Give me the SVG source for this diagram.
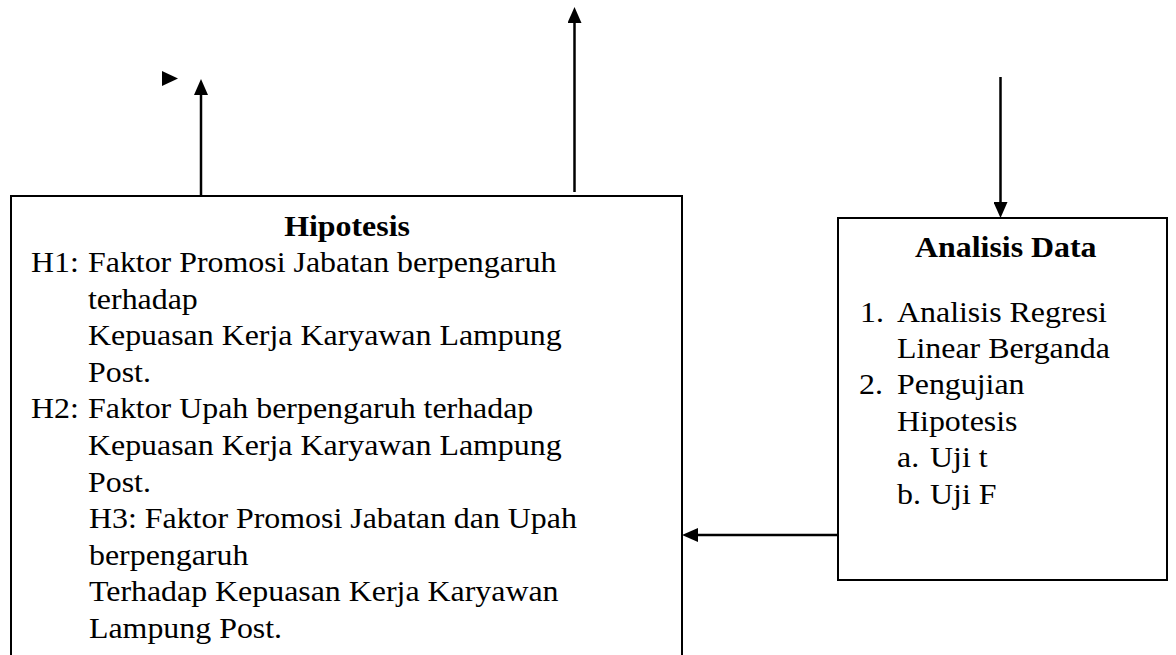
<svg xmlns="http://www.w3.org/2000/svg" width="1176" height="655" viewBox="0 0 1176 655">
  <style>
    .box { fill: #ffffff; stroke: #000000; stroke-width: 2; }
    .t { font-family: 'Liberation Serif', 'Times New Roman', serif; font-size: 29px; fill: #000000; }
    .b { font-weight: bold; }
    .conn { stroke: #000000; stroke-width: 2.5; fill: none; }
  </style>
  <defs>
    <marker id="ah" viewBox="0 0 16 14" refX="0" refY="7" markerWidth="16" markerHeight="14" markerUnits="userSpaceOnUse" orient="auto">
      <path d="M0,0 L16,7 L0,14 z" fill="#000000"/>
    </marker>
  </defs>
  <rect width="1176" height="655" fill="#ffffff"/>

  <g id="node-hipotesis">
    <rect class="box" x="11" y="196" width="671" height="520"/>
    <g transform="scale(1.1,1)">
      <text class="t b" x="315.5" y="236" text-anchor="middle">Hipotesis</text>
      <text class="t" x="28.2" y="272">H1:</text>
      <text class="t" x="80" y="272">Faktor Promosi Jabatan berpengaruh</text>
      <text class="t" x="80" y="308.6">terhadap</text>
      <text class="t" x="80" y="345.2">Kepuasan Kerja Karyawan Lampung</text>
      <text class="t" x="80" y="381.8">Post.</text>
      <text class="t" x="28.2" y="418.4">H2:</text>
      <text class="t" x="80" y="418.4">Faktor Upah berpengaruh terhadap</text>
      <text class="t" x="80" y="455">Kepuasan Kerja Karyawan Lampung</text>
      <text class="t" x="80" y="491.6">Post.</text>
      <text class="t" x="80.9" y="528.2">H3: Faktor Promosi Jabatan dan Upah</text>
      <text class="t" x="80.9" y="564.8">berpengaruh</text>
      <text class="t" x="80.9" y="601.4">Terhadap Kepuasan Kerja Karyawan</text>
      <text class="t" x="80.9" y="638">Lampung Post.</text>
    </g>
  </g>

  <g id="node-analisis-data">
    <rect class="box" x="838" y="218" width="329" height="362"/>
    <g transform="scale(1.1,1)">
      <text class="t b" x="831.8" y="257">Analisis Data</text>
      <text class="t" x="781.8" y="321.7">1.</text>
      <text class="t" x="815.5" y="321.7">Analisis Regresi</text>
      <text class="t" x="815.5" y="358">Linear Berganda</text>
      <text class="t" x="780.9" y="394.5">2.</text>
      <text class="t" x="815.5" y="394.5">Pengujian</text>
      <text class="t" x="815.5" y="431">Hipotesis</text>
      <text class="t" x="815.5" y="467.5">a.</text>
      <text class="t" x="845.5" y="467.5">Uji t</text>
      <text class="t" x="815.5" y="504">b.</text>
      <text class="t" x="845.5" y="504">Uji F</text>
    </g>
  </g>

  <g id="connectors">
    <line class="conn" x1="201" y1="196" x2="201" y2="95" marker-end="url(#ah)"/>
    <polygon points="162,71 178,78.5 162,86" fill="#000000"/>
    <line class="conn" x1="574.5" y1="192" x2="574.5" y2="23" marker-end="url(#ah)"/>
    <line class="conn" x1="1000.5" y1="77" x2="1000.5" y2="202" marker-end="url(#ah)"/>
    <line class="conn" x1="838" y1="535" x2="698" y2="535" marker-end="url(#ah)"/>
  </g>
</svg>
